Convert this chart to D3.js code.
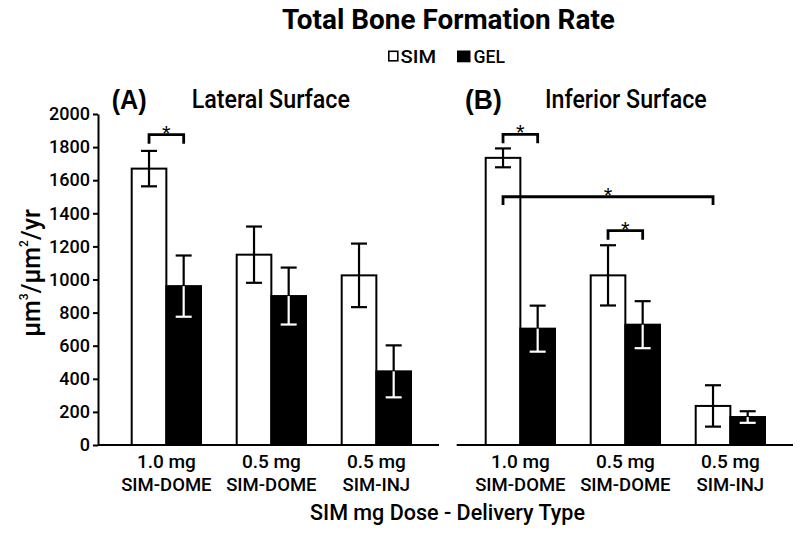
<!DOCTYPE html>
<html>
<head>
<meta charset="utf-8">
<script src="https://cdn.jsdelivr.net/npm/d3@7"></script>
<style>
  html, body { margin: 0; padding: 0; background: #fff; }
  svg { display: block; }
  text { fill: #000; }
</style>
</head>
<body>
<svg id="chart" width="800" height="536"></svg>
<script>
// ---------- data ----------
const chartTitle = "Total Bone Formation Rate";
const seriesNames = ["SIM", "GEL"];
const doseLabels = ["1.0 mg", "0.5 mg", "0.5 mg"];
const typeLabels = ["SIM-DOME", "SIM-DOME", "SIM-INJ"];
const panelTags = ["(A)", "(B)"];
const panelTitles = ["Lateral Surface", "Inferior Surface"];
const yTicks = [0, 200, 400, 600, 800, 1000, 1200, 1400, 1600, 1800, 2000];
const xAxisTitle = "SIM mg Dose - Delivery Type";

const lateralSIM = [1670, 1150, 1025];
const lateralSIMErr = [107, 170, 192];
const lateralGEL = [960, 900, 445];
const lateralGELErr = [185, 172, 157];

const inferiorSIM = [1735, 1025, 236];
const inferiorSIMErr = [57, 182, 125];
const inferiorGEL = [703, 727, 169];
const inferiorGELErr = [139, 142, 35];

// significance brackets: panel, from [group, series], to [group, series], bracket level, leg end
const sigPanel = [0, 1, 1, 1];
const sigFrom = [[0, "SIM"], [0, "SIM"], [0, "SIM"], [1, "SIM"]];
const sigTo = [[0, "GEL"], [0, "GEL"], [2, "SIM"], [1, "GEL"]];
const sigLevel = [1875, 1877, 1500, 1295];
const sigLeg = [1820, 1823, 1450, 1240];

// ---------- build ----------
const panels = [
  { sim: lateralSIM, simErr: lateralSIMErr, gel: lateralGEL, gelErr: lateralGELErr },
  { sim: inferiorSIM, simErr: inferiorSIMErr, gel: inferiorGEL, gelErr: inferiorGELErr }
];

const svg = d3.select("#chart");
const FM = "Roboto, 'Liberation Sans', Arial, sans-serif";
const FR = "'Liberation Sans', Arial, sans-serif";

function fit(sel, w) {
  sel.attr("textLength", w).attr("lengthAdjust", "spacingAndGlyphs");
  return sel;
}

const y = d3.scaleLinear().domain([0, 2000]).range([445, 114]);

const groupRanges = [[131.7, 411], [485.7, 765]];
const baseRanges = [[98, 439], [456.7, 793]];
const groups = d3.range(doseLabels.length);

// title
fit(svg.append("text").attr("x", 448.4).attr("y", 29.3).attr("text-anchor", "middle")
  .attr("font-family", FM).attr("font-weight", 700).attr("font-size", 28.5)
  .text(chartTitle), 333);

// legend
svg.append("rect").attr("x", 388.8).attr("y", 51.3).attr("width", 9).attr("height", 9.5)
  .attr("fill", "#fff").attr("stroke", "#000").attr("stroke-width", 1.6);
fit(svg.append("text").attr("x", 400.5).attr("y", 62.5).attr("font-family", FM)
  .attr("font-weight", 500).attr("font-size", 17.5).text(seriesNames[0]), 35.5);
svg.append("rect").attr("x", 457).attr("y", 50.5).attr("width", 13.5).attr("height", 11.8)
  .attr("fill", "#000");
fit(svg.append("text").attr("x", 473.5).attr("y", 62.5).attr("font-family", FM)
  .attr("font-weight", 500).attr("font-size", 17.5).text(seriesNames[1]), 31.5);

// y axis
const yAxis = d3.axisLeft(y).tickValues(yTicks).tickFormat(d3.format("d"))
  .tickSize(5).tickSizeOuter(0).tickPadding(3);
const yg = svg.append("g").attr("transform", "translate(98,0)").call(yAxis);
yg.select(".domain").attr("stroke", "#000").attr("stroke-width", 2);
yg.selectAll(".tick line").attr("stroke", "#000").attr("stroke-width", 2);
yg.selectAll(".tick text").attr("font-family", FM).attr("font-weight", 500)
  .attr("font-size", 18).attr("fill", "#000");

// y axis title
const yt = svg.append("text").attr("transform", "translate(40,273) rotate(-90)")
  .attr("text-anchor", "middle").attr("font-family", FM).attr("font-weight", 500).attr("font-size", 25);
yt.append("tspan").text("µm");
yt.append("tspan").attr("font-size", 12).attr("dy", -12).text("3");
yt.append("tspan").attr("dy", 12).text("/µm");
yt.append("tspan").attr("font-size", 12).attr("dy", -12).text("2");
yt.append("tspan").attr("dy", 12).text("/yr");

const tagX = [111.7, 465];
const tagW = [35, 36.7];
const ptX = [191.7, 545];
const ptW = [158.3, 161.7];

panels.forEach((p, pi) => {
  const x0 = d3.scaleBand().domain(groups).range(groupRanges[pi]).paddingInner(0.34).paddingOuter(0);
  const x1 = d3.scaleBand().domain(seriesNames).range([0, x0.bandwidth()]);
  const g = svg.append("g");

  // panel tag and title
  fit(g.append("text").attr("x", tagX[pi]).attr("y", 109.3).attr("font-family", FR)
    .attr("font-weight", "bold").attr("font-size", 28).text(panelTags[pi]), tagW[pi]);
  fit(g.append("text").attr("x", ptX[pi]).attr("y", 108).attr("font-family", FM)
    .attr("font-weight", 500).attr("font-size", 26).text(panelTitles[pi]), ptW[pi]);

  const rows = [];
  groups.forEach(gi => {
    rows.push({ g: gi, s: "SIM", v: p.sim[gi], e: p.simErr[gi] });
    rows.push({ g: gi, s: "GEL", v: p.gel[gi], e: p.gelErr[gi] });
  });

  // bars
  g.selectAll("rect.bar").data(rows).join("rect").attr("class", "bar")
    .attr("x", d => x0(d.g) + x1(d.s))
    .attr("y", d => y(d.v))
    .attr("width", x1.bandwidth())
    .attr("height", d => y(0) - y(d.v))
    .attr("fill", d => d.s === "SIM" ? "#fff" : "#000")
    .attr("stroke", "#000").attr("stroke-width", 2);

  // error bars
  const cap = 8;
  rows.forEach(d => {
    const cx = x0(d.g) + x1(d.s) + x1.bandwidth() / 2;
    const inner = d.s === "SIM" ? "#000" : "#fff";
    g.append("line").attr("x1", cx).attr("x2", cx).attr("y1", y(d.v + d.e)).attr("y2", y(d.v))
      .attr("stroke", "#000").attr("stroke-width", 2.2);
    g.append("line").attr("x1", cx - cap).attr("x2", cx + cap).attr("y1", y(d.v + d.e)).attr("y2", y(d.v + d.e))
      .attr("stroke", "#000").attr("stroke-width", 2.2);
    g.append("line").attr("x1", cx).attr("x2", cx).attr("y1", y(d.v)).attr("y2", y(d.v - d.e))
      .attr("stroke", inner).attr("stroke-width", 2.2);
    g.append("line").attr("x1", cx - cap).attr("x2", cx + cap).attr("y1", y(d.v - d.e)).attr("y2", y(d.v - d.e))
      .attr("stroke", inner).attr("stroke-width", 2.2);
  });

  // baseline
  g.append("line").attr("x1", baseRanges[pi][0]).attr("x2", baseRanges[pi][1])
    .attr("y1", y(0)).attr("y2", y(0)).attr("stroke", "#000").attr("stroke-width", 2);

  // x tick labels
  groups.forEach(gi => {
    const cx = x0(gi) + x0.bandwidth() / 2;
    g.append("text").attr("x", cx).attr("y", 468.3).attr("text-anchor", "middle")
      .attr("font-family", FM).attr("font-weight", 500).attr("font-size", 19).text(doseLabels[gi]);
    g.append("text").attr("x", cx).attr("y", 491).attr("text-anchor", "middle")
      .attr("font-family", FM).attr("font-weight", 500).attr("font-size", 18.5).text(typeLabels[gi]);
  });

  // significance brackets
  sigPanel.forEach((sp, k) => {
    if (sp !== pi) return;
    const xa = x0(sigFrom[k][0]) + x1(sigFrom[k][1]) + x1.bandwidth() / 2;
    const xb = x0(sigTo[k][0]) + x1(sigTo[k][1]) + x1.bandwidth() / 2;
    const yl = y(sigLevel[k]), yg2 = y(sigLeg[k]);
    g.append("path").attr("d", `M${xa},${yg2}V${yl}H${xb}V${yg2}`)
      .attr("fill", "none").attr("stroke", "#000").attr("stroke-width", 2.8);
    g.append("text").attr("x", (xa + xb) / 2).attr("y", yl + 6).attr("text-anchor", "middle")
      .attr("font-family", FR).attr("font-size", 22).text("*");
  });
});

// x axis title
fit(svg.append("text").attr("x", 447.5).attr("y", 520).attr("text-anchor", "middle")
  .attr("font-family", FM).attr("font-weight", 500).attr("font-size", 21.5).text(xAxisTitle), 275);
</script>
</body>
</html>
